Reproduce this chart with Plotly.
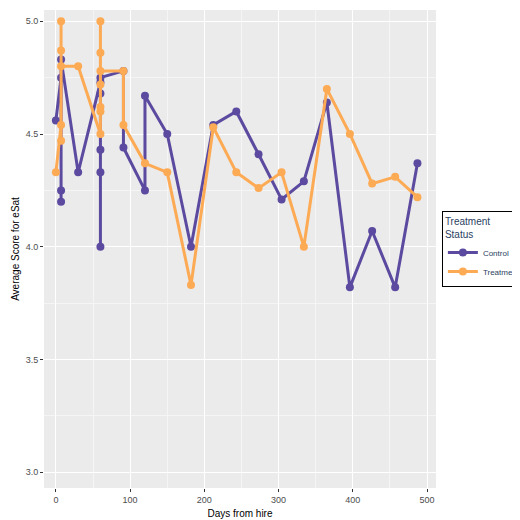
import plotly.graph_objects as go

# Control group
ctrl_days = [0, 7, 7, 7, 7, 30, 60, 60, 60, 60, 60, 60, 91, 91, 120, 120, 150,
             182, 212, 243, 273, 304, 334, 365, 396, 426, 457, 487]
ctrl_score = [4.56, 4.75, 4.20, 4.25, 4.83, 4.33, 4.73, 4.00, 4.33, 4.43, 4.68, 4.75,
              4.78, 4.44, 4.25, 4.67, 4.50, 4.00, 4.54, 4.60, 4.41, 4.21, 4.29, 4.64,
              3.82, 4.07, 3.82, 4.37]

# Treatment group
treat_days = [0, 7, 7, 7, 7, 7, 30, 60, 60, 60, 60, 60, 60, 60, 91, 91, 120, 150,
              182, 212, 243, 273, 304, 334, 365, 396, 426, 457, 487]
treat_score = [4.33, 4.54, 4.47, 4.87, 5.00, 4.80, 4.80, 4.50, 4.60, 4.62, 5.00, 4.86,
               4.72, 4.78, 4.78, 4.54, 4.37, 4.33, 3.83, 4.53, 4.33, 4.26, 4.33, 4.00,
               4.70, 4.50, 4.28, 4.31, 4.22]

fig = go.Figure()
fig.add_trace(go.Scatter(x=ctrl_days, y=ctrl_score, mode="lines+markers", name="Control",
                         line=dict(color="#5B4A9F", width=3), marker=dict(size=8)))
fig.add_trace(go.Scatter(x=treat_days, y=treat_score, mode="lines+markers", name="Treatment",
                         line=dict(color="#FDAA55", width=3), marker=dict(size=8)))

axis_style = dict(showgrid=True, gridcolor="white", gridwidth=1.2, zeroline=False,
                  ticks="outside", ticklen=3, tickcolor="#333",
                  tickfont=dict(size=9, color="#4D4D4D"),
                  minor=dict(showgrid=True, gridcolor="#F5F5F5", gridwidth=0.6))

fig.update_xaxes(range=[-16, 512], tickvals=[0, 100, 200, 300, 400, 500],
                 title=dict(text="Days from hire", font=dict(size=10, color="black"), standoff=6),
                 minor_dtick=50, **axis_style)
fig.update_yaxes(range=[2.93, 5.05], tickvals=[3.0, 3.5, 4.0, 4.5, 5.0], tickformat=".1f",
                 title=dict(text="Average Score for eSat", font=dict(size=10, color="black"), standoff=4),
                 minor_dtick=0.25, **axis_style)

fig.update_layout(
    width=520, height=520,
    font=dict(family="Liberation Sans, Arial", size=10),
    plot_bgcolor="#EBEBEB", paper_bgcolor="white",
    margin=dict(l=36, r=78, t=2, b=40),
    legend=dict(title=dict(text="Treatment<br>Status", font=dict(size=10)),
                x=1.015, y=0.5, yanchor="middle", xanchor="left", itemwidth=30,
                bordercolor="black", borderwidth=1, font=dict(size=8)),
)

fig.write_html("out.html")
